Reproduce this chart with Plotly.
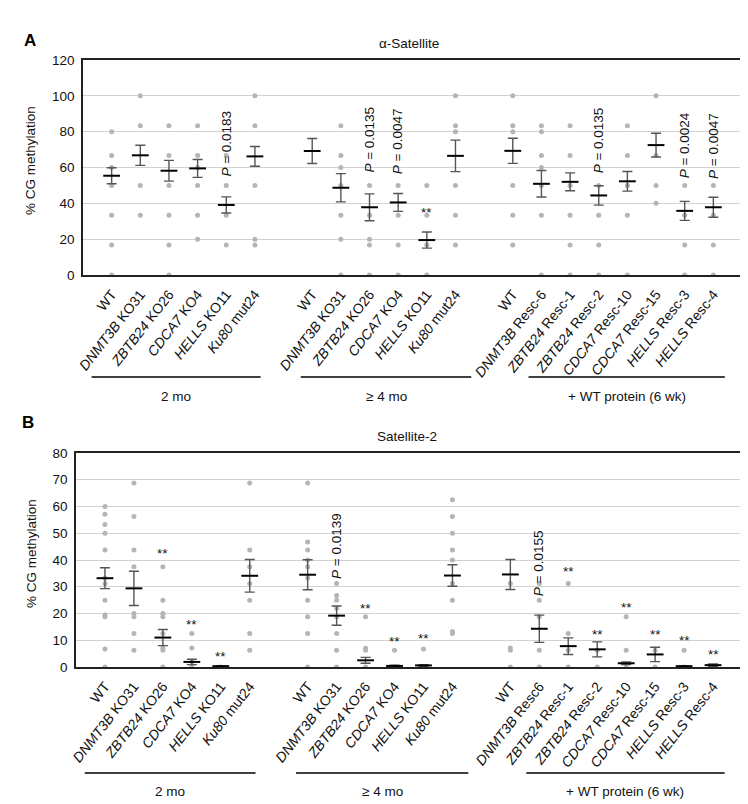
import plotly.graph_objects as go

# ---------------- data ----------------
group_names = ["2 mo", "≥ 4 mo", "+ WT protein (6 wk)"]
genes = {"DNMT3B", "ZBTB24", "CDCA7", "HELLS", "Ku80"}

cats_2mo = ["WT", "DNMT3B KO31", "ZBTB24 KO26", "CDCA7 KO4", "HELLS KO11", "Ku80 mut24"]
cats_4mo = ["WT", "DNMT3B KO31", "ZBTB24 KO26", "CDCA7 KO4", "HELLS KO11", "Ku80 mut24"]
cats_resc_a = ["WT", "DNMT3B Resc-6", "ZBTB24 Resc-1", "ZBTB24 Resc-2", "CDCA7 Resc-10",
               "CDCA7 Resc-15", "HELLS Resc-3", "HELLS Resc-4"]
cats_resc_b = ["WT", "DNMT3B Resc6", "ZBTB24 Resc-1", "ZBTB24 Resc-2", "CDCA7 Resc-10",
               "CDCA7 Resc-15", "HELLS Resc-3", "HELLS Resc-4"]

# Panel A: alpha-Satellite (individual clone values)
a_dots_2mo = [[80, 66.7, 60, 50, 33.3, 16.7, 0], [100, 83.3, 50, 33.3],
              [83.3, 66.7, 50, 33.3, 16.7, 0], [83.3, 66.7, 60, 50, 33.3, 20],
              [66.7, 50, 33.3, 16.7], [100, 83.3, 50, 20, 16.7]]
a_dots_4mo = [[], [83.3, 66.7, 60, 50, 33.3, 20, 0], [50, 33.3, 20, 16.7, 0],
              [50, 33.3, 16.7, 0], [50, 33.3, 16.7, 0], [100, 83.3, 80, 50, 33.3, 16.7]]
a_dots_resc = [[100, 83.3, 80, 50, 33.3, 16.7], [83.3, 80, 66.7, 60, 50, 33.3, 0],
               [83.3, 66.7, 50, 33.3, 16.7, 0], [50, 33.3, 16.7, 0], [83.3, 66.7, 50, 33.3, 0],
               [100, 66.7, 50, 40], [50, 33.3, 16.7, 0], [50, 33.3, 16.7, 0]]
a_mean_2mo = [55.4, 66.8, 58.2, 59.5, 39.1, 66.2]
a_sem_2mo = [4.5, 5.6, 5.8, 5.0, 4.5, 5.5]
a_mean_4mo = [69.2, 48.7, 37.8, 40.5, 19.5, 66.5]
a_sem_4mo = [7.0, 7.9, 7.5, 5.0, 4.5, 8.8]
a_mean_resc = [69.3, 50.9, 52.0, 44.4, 52.3, 72.5, 35.8, 37.8]
a_sem_resc = [7.0, 7.4, 5.0, 5.4, 5.5, 6.6, 5.3, 5.6]
a_pvals = [("2mo", 4, "0.0183", 73.5), ("4mo", 2, "0.0135", 75.3), ("4mo", 3, "0.0047", 74.8),
           ("resc", 3, "0.0135", 75.0), ("resc", 6, "0.0024", 72.2), ("resc", 7, "0.0047", 72.2)]
a_stars = [("4mo", 4, 35.0)]

# Panel B: Satellite-2
b_dots_2mo = [[60, 57.1, 53.3, 50, 43.75, 33.3, 31.25, 25, 19.4, 18.75, 6.7, 0],
              [68.75, 56.25, 43.75, 37.5, 20, 18.75, 12.5, 6.25],
              [37.5, 25, 20, 18.75, 12.5, 7.1, 6.25, 0],
              [12.5, 7.1, 2, 0], [0],
              [68.75, 43.75, 37.5, 31.25, 25, 12.5, 6.25]]
b_dots_4mo = [[68.75, 46.7, 43.75, 40, 37.5, 33.3, 25, 18.75, 12.5, 0],
              [31.25, 26.7, 25, 22, 18.75, 12.5, 6.25, 0],
              [18.75, 7, 6.25, 0], [6.25, 0], [6.7, 0],
              [62.5, 56.25, 50, 43.75, 40, 31.25, 25, 13.3, 12.5]]
b_dots_resc = [[31.25, 7.1, 6.25, 0], [31.25, 25, 18.75, 6.25, 0], [31.25, 12.5, 6.25, 0],
               [6.25, 0], [18.75, 6.25, 0], [6.25, 0], [6.25, 0], [0]]
b_mean_2mo = [33.2, 29.4, 11.0, 1.9, 0.3, 34.1]
b_sem_2mo = [3.9, 6.4, 3.0, 1.0, 0.2, 6.1]
b_mean_4mo = [34.5, 19.2, 2.5, 0.4, 0.6, 34.2]
b_sem_4mo = [5.6, 3.6, 1.1, 0.3, 0.3, 4.0]
b_mean_resc = [34.6, 14.3, 7.8, 6.6, 1.4, 4.7, 0.3, 0.7]
b_sem_resc = [5.6, 5.1, 3.1, 2.8, 0.5, 2.7, 0.2, 0.4]
b_pvals = [("4mo", 1, "0.0139", 45.1), ("resc", 1, "0.0155", 38.9)]
b_stars = [("2mo", 2, 42.5), ("2mo", 3, 16.0), ("2mo", 4, 3.8),
           ("4mo", 2, 22.0), ("4mo", 3, 9.5), ("4mo", 4, 10.8),
           ("resc", 2, 35.8), ("resc", 3, 12.2), ("resc", 4, 22.4),
           ("resc", 5, 12.0), ("resc", 6, 9.8), ("resc", 7, 4.7)]

# ---------------- layout helpers ----------------
W, H = 748, 804
FONT = "Liberation Sans, Arial, Helvetica, sans-serif"
DOT = "#b5b5b5"
ERR = "#555555"
FS = 13.5


def px_x(p):
    return p / W


def px_y(p):
    return 1 - p / H


def label(c):
    first, _, rest = c.partition(" ")
    if first in genes:
        return f"<i>{first}</i> {rest}"
    return c


def ann(**kw):
    base = dict(showarrow=False, xanchor="center", yanchor="middle")
    base.update(kw)
    return base


offsets = {"2mo": 0, "4mo": 7, "resc": 14}
line_ext = {"2mo": (-0.7, 5.2), "4mo": (6.6, 12.55), "resc": (14.55, 21.4)}

fig = go.Figure()
annotations = []
shapes = []

panels = [
    dict(xa="x", ya="y", cats=[cats_2mo, cats_4mo, cats_resc_a],
         dots=[a_dots_2mo, a_dots_4mo, a_dots_resc],
         means=[a_mean_2mo, a_mean_4mo, a_mean_resc], sems=[a_sem_2mo, a_sem_4mo, a_sem_resc],
         pvals=a_pvals, stars=a_stars, xdom=(75, 734), ydom=(52, 267), yr=(0, 120), dt=20,
         title="α-Satellite", title_xy=(401, 35), letter="A", letter_xy=(22, 33),
         ytitle_xy=(22, 153), line_y=369, grp_y=388),
    dict(xa="x2", ya="y2", cats=[cats_2mo, cats_4mo, cats_resc_b],
         dots=[b_dots_2mo, b_dots_4mo, b_dots_resc],
         means=[b_mean_2mo, b_mean_4mo, b_mean_resc], sems=[b_sem_2mo, b_sem_4mo, b_sem_resc],
         pvals=b_pvals, stars=b_stars, xdom=(68, 734), ydom=(445, 659), yr=(0, 80), dt=10,
         title="Satellite-2", title_xy=(399, 428), letter="B", letter_xy=(20, 415),
         ytitle_xy=(23, 546), line_y=765, grp_y=783),
]

keys = ["2mo", "4mo", "resc"]
for pi, P in enumerate(panels):
    tickvals, ticktext = [], []
    dx, dy, mx, my, me = [], [], [], [], []
    for gi, key in enumerate(keys):
        off = offsets[key]
        for ci, c in enumerate(P["cats"][gi]):
            xpos = off + ci
            tickvals.append(xpos)
            ticktext.append(label(c))
            for v in P["dots"][gi][ci]:
                dx.append(xpos)
                dy.append(v)
            mx.append(xpos)
            my.append(P["means"][gi][ci])
            me.append(P["sems"][gi][ci])
    fig.add_trace(go.Scatter(x=dx, y=dy, mode="markers", xaxis=P["xa"], yaxis=P["ya"],
                             marker=dict(color=DOT, size=5, line=dict(width=0)),
                             showlegend=False, hoverinfo="skip"))
    fig.add_trace(go.Scatter(x=mx, y=my, mode="markers", xaxis=P["xa"], yaxis=P["ya"],
                             marker=dict(symbol="line-ew", size=12, color="black",
                                         line=dict(color="black", width=2)),
                             error_y=dict(type="data", array=me, visible=True, color=ERR,
                                          thickness=1.4, width=5),
                             showlegend=False, hoverinfo="skip"))
    xref, yref = P["xa"], P["ya"]
    for key, ci, p, yv in P["pvals"]:
        annotations.append(ann(x=offsets[key] + ci, y=yv, xref=xref, yref=yref,
                               text=f"<i>P</i> = {p}", textangle=-90,
                               font=dict(size=FS, color="#111", family=FONT)))
    for key, ci, yv in P["stars"]:
        annotations.append(ann(x=offsets[key] + ci, y=yv, xref=xref, yref=yref, text="**",
                               font=dict(size=FS, color="#111", family=FONT)))
    for gi, key in enumerate(keys):
        x0, x1 = line_ext[key]
        shapes.append(dict(type="line", xref=xref, yref="paper", x0=x0, x1=x1,
                           y0=px_y(P["line_y"]), y1=px_y(P["line_y"]),
                           line=dict(color="black", width=1.4)))
        annotations.append(ann(x=(x0 + x1) / 2, y=px_y(P["grp_y"]), xref=xref, yref="paper",
                               text=group_names[gi],
                               font=dict(size=FS, color="#111", family=FONT)))
    annotations.append(ann(x=px_x(P["title_xy"][0]), y=px_y(P["title_xy"][1]), xref="paper",
                           yref="paper", text=P["title"],
                           font=dict(size=FS, color="#111", family=FONT)))
    annotations.append(ann(x=px_x(P["letter_xy"][0]), y=px_y(P["letter_xy"][1]), xref="paper",
                           yref="paper", text=f"<b>{P['letter']}</b>",
                           font=dict(size=17, color="black", family=FONT)))
    annotations.append(ann(x=px_x(P["ytitle_xy"][0]), y=px_y(P["ytitle_xy"][1]), xref="paper",
                           yref="paper", text="% CG methylation", textangle=-90,
                           font=dict(size=FS, color="#111", family=FONT)))

    xname = "xaxis" if pi == 0 else "xaxis2"
    yname = "yaxis" if pi == 0 else "yaxis2"
    fig.update_layout(**{
        xname: dict(domain=[px_x(P["xdom"][0]), px_x(P["xdom"][1])], range=[-1, 22],
                    anchor=yref, tickvals=tickvals, ticktext=ticktext, tickangle=-52,
                    showgrid=False, zeroline=False, showline=True, mirror=True,
                    linecolor="#222", linewidth=1.5, ticks="", automargin=False,
                    ticklabelstandoff=4,
                    tickfont=dict(size=14, color="#111", family=FONT)),
        yname: dict(domain=[px_y(P["ydom"][1]), px_y(P["ydom"][0])], range=list(P["yr"]),
                    dtick=P["dt"], anchor=xref, showgrid=True, gridcolor="#d2d2d2",
                    gridwidth=1, zeroline=False, showline=True, mirror=True,
                    linecolor="#222", linewidth=1.5, ticks="", automargin=False,
                    ticklabelstandoff=4,
                    tickfont=dict(size=FS, color="#111", family=FONT)),
    })

fig.update_layout(width=W, height=H, margin=dict(l=0, r=0, t=0, b=0, autoexpand=False),
                  paper_bgcolor="white", plot_bgcolor="white",
                  annotations=annotations, shapes=shapes, showlegend=False,
                  font=dict(family=FONT))
fig.write_html("out.html")
